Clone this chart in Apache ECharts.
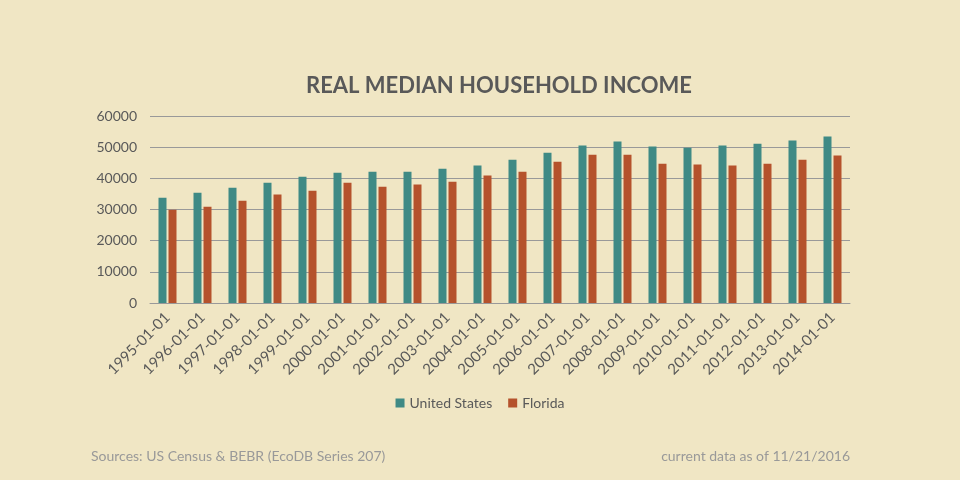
<!DOCTYPE html>
<html>
<head>
<meta charset="utf-8">
<script src="https://cdn.jsdelivr.net/npm/echarts@6/dist/echarts.min.js"></script>
<style>
  html, body { margin: 0; padding: 0; background: #f0e6c4; }
  #chart { width: 960px; height: 480px; }
</style>
</head>
<body>
<div id="chart"></div>
<script>
const years = ['1995-01-01', '1996-01-01', '1997-01-01', '1998-01-01', '1999-01-01',
  '2000-01-01', '2001-01-01', '2002-01-01', '2003-01-01', '2004-01-01',
  '2005-01-01', '2006-01-01', '2007-01-01', '2008-01-01', '2009-01-01',
  '2010-01-01', '2011-01-01', '2012-01-01', '2013-01-01', '2014-01-01']
const unitedStates = [33800, 35400, 37000, 38600, 40500, 41800, 42100, 42100, 43100, 44100,
  46000, 48200, 50500, 51800, 50200, 49800, 50500, 51100, 52100, 53400]
const florida = [29900, 30900, 32800, 34800, 36000, 38600, 37300, 38000, 38900, 40900,
  42100, 45300, 47600, 47600, 44700, 44400, 44100, 44700, 46000, 47300]

const font = 'Lato, "Open Sans", sans-serif'
const chart = echarts.init(document.getElementById('chart'))
chart.setOption({
  backgroundColor: '#f0e6c4',
  animation: false,
  textStyle: { fontFamily: font },
  title: [
    {
      text: 'REAL MEDIAN HOUSEHOLD INCOME',
      left: 494,
      textAlign: 'center',
      top: 70,
      textStyle: { fontSize: 22, fontWeight: 'bold', color: '#595959', fontFamily: font }
    },
    {
      text: 'Sources: US Census & BEBR (EcoDB Series 207)',
      left: 86,
      top: 444,
      textStyle: { fontSize: 14, fontWeight: 'normal', color: '#999', fontFamily: font }
    },
    {
      text: 'current data as of 11/21/2016',
      right: 105,
      top: 444,
      textStyle: { fontSize: 14, fontWeight: 'normal', color: '#999', fontFamily: font }
    }
  ],
  legend: {
    top: 391,
    left: 'center',
    itemWidth: 9,
    itemHeight: 9,
    itemGap: 16,
    icon: 'rect',
    textStyle: { fontSize: 14, color: '#595959' },
    data: ['United States', 'Florida']
  },
  grid: { left: 150, right: 110, top: 116, bottom: 177 },
  xAxis: {
    type: 'category',
    data: years,
    axisLine: { lineStyle: { color: '#999' } },
    axisTick: { show: false },
    axisLabel: { interval: 0, rotate: 45, fontSize: 15, color: '#595959', margin: 12 }
  },
  yAxis: {
    type: 'value',
    min: 0,
    max: 60000,
    interval: 10000,
    axisLine: { show: false },
    axisTick: { show: false },
    axisLabel: { fontSize: 14, color: '#595959', margin: 13, formatter: v => String(v) },
    splitLine: { lineStyle: { color: '#999' } }
  },
  series: [
    {
      name: 'United States',
      type: 'bar',
      data: unitedStates,
      barWidth: 8,
      barGap: '25%',
      itemStyle: { color: '#3f8a85' }
    },
    {
      name: 'Florida',
      type: 'bar',
      data: florida,
      barWidth: 8,
      itemStyle: { color: '#b5522c' }
    }
  ]
})
</script>
</body>
</html>
